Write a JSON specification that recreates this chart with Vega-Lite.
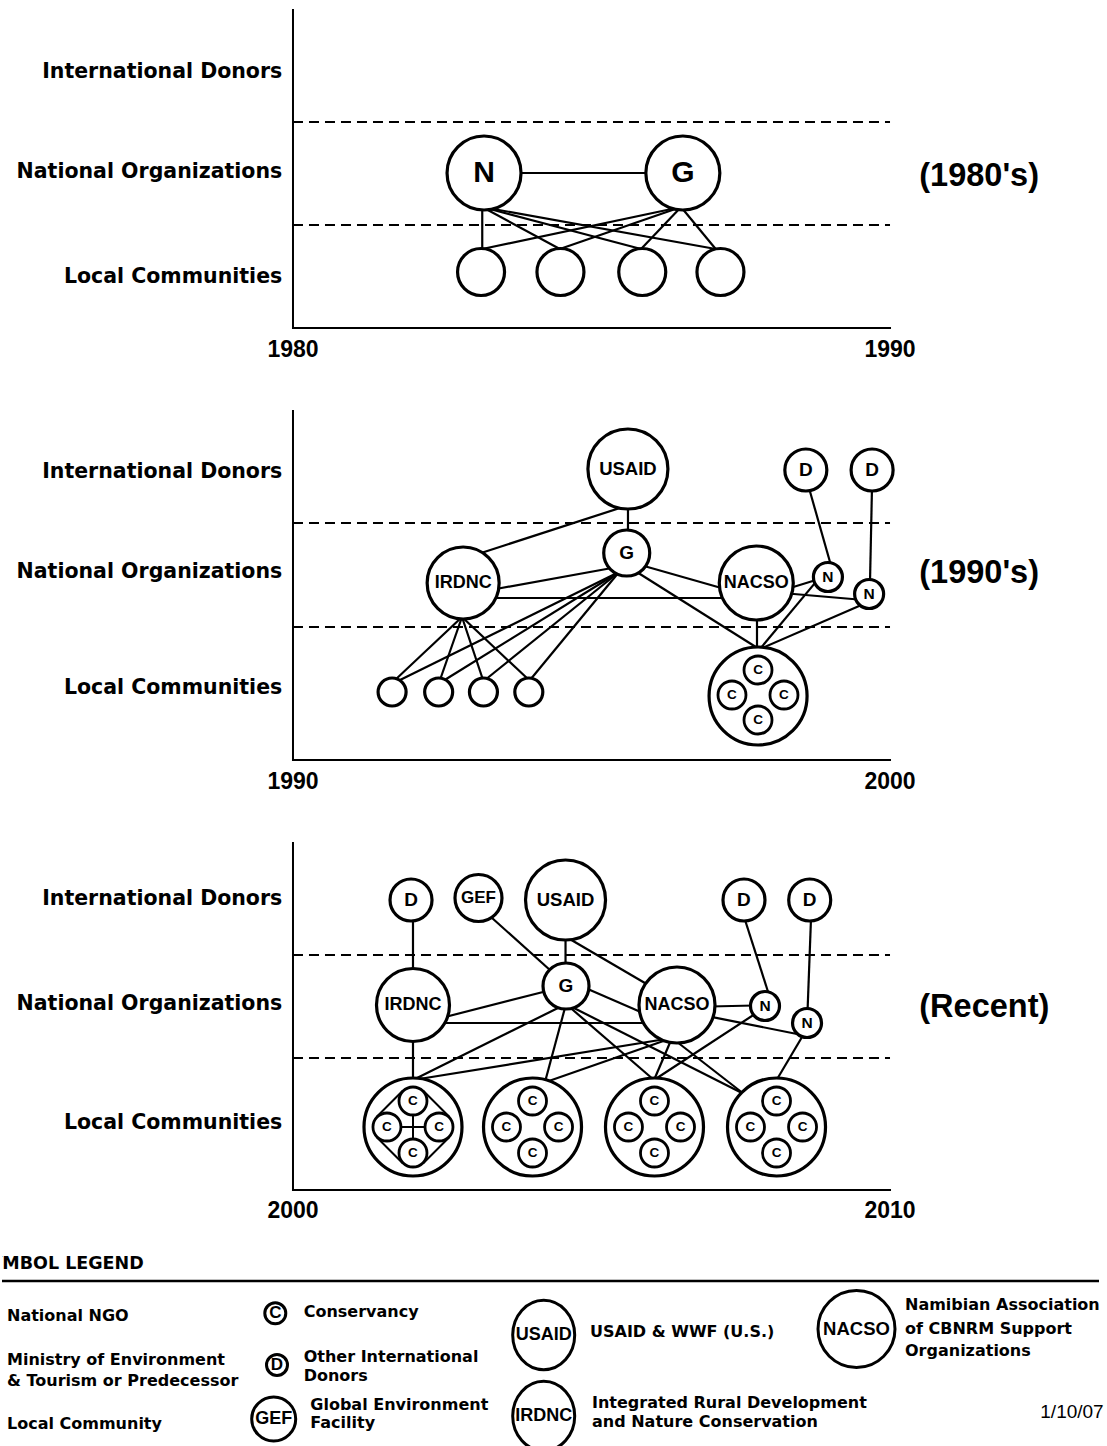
{
  "$schema": "https://vega.github.io/schema/vega-lite/v6.json",
  "background": "white",
  "padding": 0,
  "spacing": 0,
  "config": {"view": {"stroke": null}},
  "datasets": {
    "p1": [
      {"kind": "axis", "x": 1980, "y": 0, "x2": 1990, "y2": 0},
      {"kind": "axis", "x": 1980, "y": 0, "x2": 1980, "y2": 3.18},
      {"kind": "tier", "x": 1980, "y": 2.06, "x2": 1990, "y2": 2.06},
      {"kind": "tier", "x": 1980, "y": 1.03, "x2": 1990, "y2": 1.03},
      {"kind": "link", "x": 1983.2, "y": 1.55, "x2": 1986.53, "y2": 1.55},
      {"kind": "link", "x": 1983.17, "y": 1.21, "x2": 1983.17, "y2": 0.79},
      {"kind": "link", "x": 1983.17, "y": 1.21, "x2": 1984.47, "y2": 0.79},
      {"kind": "link", "x": 1983.17, "y": 1.21, "x2": 1985.83, "y2": 0.79},
      {"kind": "link", "x": 1983.17, "y": 1.21, "x2": 1987.08, "y2": 0.79},
      {"kind": "link", "x": 1986.5, "y": 1.21, "x2": 1983.17, "y2": 0.79},
      {"kind": "link", "x": 1986.5, "y": 1.21, "x2": 1984.47, "y2": 0.79},
      {"kind": "link", "x": 1986.5, "y": 1.21, "x2": 1985.83, "y2": 0.79},
      {"kind": "link", "x": 1986.5, "y": 1.21, "x2": 1987.08, "y2": 0.79},
      {"kind": "node", "x": 1983.2, "y": 1.55, "type": "National NGO", "label": "N"},
      {"kind": "node", "x": 1986.53, "y": 1.55, "type": "Ministry", "label": "G"},
      {"kind": "node", "x": 1983.15, "y": 0.56, "type": "Local Community", "label": ""},
      {"kind": "node", "x": 1984.48, "y": 0.56, "type": "Local Community", "label": ""},
      {"kind": "node", "x": 1985.85, "y": 0.56, "type": "Local Community", "label": ""},
      {"kind": "node", "x": 1987.16, "y": 0.56, "type": "Local Community", "label": ""},
      {"kind": "rowlabel", "x": 1979.82, "y": 2.56, "text": "International Donors"},
      {"kind": "rowlabel", "x": 1979.82, "y": 1.56, "text": "National Organizations"},
      {"kind": "rowlabel", "x": 1979.82, "y": 0.51, "text": "Local Communities"},
      {"kind": "year", "x": 1980, "y": -0.22, "text": "1980"},
      {"kind": "year", "x": 1990, "y": -0.22, "text": "1990"},
      {"kind": "period", "x": 1990.49, "y": 1.52, "text": "(1980's)"}
    ],
    "p2": [
      {"kind": "axis", "x": 1990, "y": 0, "x2": 2000, "y2": 0},
      {"kind": "axis", "x": 1990, "y": 0, "x2": 1990, "y2": 3.49},
      {"kind": "tier", "x": 1990, "y": 2.37, "x2": 2000, "y2": 2.37},
      {"kind": "tier", "x": 1990, "y": 1.33, "x2": 2000, "y2": 1.33},
      {"kind": "link", "x": 1995.578, "y": 2.54, "x2": 1993.099, "y2": 2.06},
      {"kind": "link", "x": 1995.611, "y": 2.55, "x2": 1995.611, "y2": 2.27},
      {"kind": "link", "x": 1995.343, "y": 1.92, "x2": 1993.4, "y2": 1.71},
      {"kind": "link", "x": 1993.333, "y": 1.62, "x2": 1997.27, "y2": 1.62},
      {"kind": "link", "x": 1995.896, "y": 1.937, "x2": 1997.219, "y2": 1.713},
      {"kind": "link", "x": 1995.745, "y": 1.885, "x2": 1997.806, "y2": 1.11},
      {"kind": "link", "x": 1997.772, "y": 1.45, "x2": 1997.772, "y2": 1.1},
      {"kind": "link", "x": 1998.801, "y": 1.811, "x2": 1997.822, "y2": 1.11},
      {"kind": "link", "x": 1999.598, "y": 1.57, "x2": 1997.822, "y2": 1.11},
      {"kind": "link", "x": 1998.325, "y": 1.72, "x2": 1998.76, "y2": 1.8},
      {"kind": "link", "x": 1998.291, "y": 1.665, "x2": 1999.464, "y2": 1.605},
      {"kind": "link", "x": 1998.643, "y": 2.72, "x2": 1999.028, "y2": 1.91},
      {"kind": "link", "x": 1999.698, "y": 2.72, "x2": 1999.665, "y2": 1.78},
      {"kind": "link", "x": 1992.831, "y": 1.43, "x2": 1991.709, "y2": 0.8},
      {"kind": "link", "x": 1992.831, "y": 1.43, "x2": 1992.462, "y2": 0.8},
      {"kind": "link", "x": 1992.831, "y": 1.43, "x2": 1993.183, "y2": 0.8},
      {"kind": "link", "x": 1992.831, "y": 1.43, "x2": 1993.953, "y2": 0.8},
      {"kind": "link", "x": 1995.461, "y": 1.88, "x2": 1991.759, "y2": 0.79},
      {"kind": "link", "x": 1995.461, "y": 1.88, "x2": 1992.513, "y2": 0.79},
      {"kind": "link", "x": 1995.461, "y": 1.88, "x2": 1993.216, "y2": 0.8},
      {"kind": "link", "x": 1995.461, "y": 1.88, "x2": 1993.97, "y2": 0.8},
      {"kind": "node", "x": 1995.61, "y": 2.91, "type": "USAID", "label": "USAID"},
      {"kind": "node", "x": 1998.59, "y": 2.9, "type": "Donor", "label": "D"},
      {"kind": "node", "x": 1999.7, "y": 2.9, "type": "Donor", "label": "D"},
      {"kind": "node", "x": 1995.59, "y": 2.07, "type": "Ministry", "label": "G"},
      {"kind": "node", "x": 1992.85, "y": 1.77, "type": "IRDNC", "label": "IRDNC"},
      {"kind": "node", "x": 1997.76, "y": 1.77, "type": "NACSO", "label": "NACSO"},
      {"kind": "node", "x": 1998.96, "y": 1.83, "type": "National NGO", "label": "N"},
      {"kind": "node", "x": 1999.65, "y": 1.66, "type": "National NGO", "label": "N"},
      {"kind": "node", "x": 1991.66, "y": 0.68, "type": "Local Community", "label": ""},
      {"kind": "node", "x": 1992.44, "y": 0.68, "type": "Local Community", "label": ""},
      {"kind": "node", "x": 1993.19, "y": 0.68, "type": "Local Community", "label": ""},
      {"kind": "node", "x": 1993.95, "y": 0.68, "type": "Local Community", "label": ""},
      {"kind": "node", "x": 1997.79, "y": 0.64, "type": "Conservancy group", "label": ""},
      {"kind": "node", "x": 1997.789, "y": 0.9, "type": "Conservancy", "label": "C"},
      {"kind": "node", "x": 1997.353, "y": 0.65, "type": "Conservancy", "label": "C"},
      {"kind": "node", "x": 1998.224, "y": 0.65, "type": "Conservancy", "label": "C"},
      {"kind": "node", "x": 1997.789, "y": 0.4, "type": "Conservancy", "label": "C"},
      {"kind": "rowlabel", "x": 1989.82, "y": 2.88, "text": "International Donors"},
      {"kind": "rowlabel", "x": 1989.82, "y": 1.88, "text": "National Organizations"},
      {"kind": "rowlabel", "x": 1989.82, "y": 0.72, "text": "Local Communities"},
      {"kind": "year", "x": 1990, "y": -0.22, "text": "1990"},
      {"kind": "year", "x": 2000, "y": -0.22, "text": "2000"},
      {"kind": "period", "x": 2000.49, "y": 1.87, "text": "(1990's)"}
    ],
    "p3": [
      {"kind": "axis", "x": 2000, "y": 0, "x2": 2010, "y2": 0},
      {"kind": "axis", "x": 2000, "y": 0, "x2": 2000, "y2": 3.47},
      {"kind": "tier", "x": 2000, "y": 2.35, "x2": 2010, "y2": 2.35},
      {"kind": "tier", "x": 2000, "y": 1.32, "x2": 2010, "y2": 1.32},
      {"kind": "link", "x": 2002.01, "y": 2.72, "x2": 2002.01, "y2": 2.18},
      {"kind": "link", "x": 2003.283, "y": 2.747, "x2": 2004.355, "y2": 2.173},
      {"kind": "link", "x": 2004.565, "y": 2.54, "x2": 2004.565, "y2": 2.23},
      {"kind": "link", "x": 2004.606, "y": 2.52, "x2": 2005.98, "y2": 2.04},
      {"kind": "link", "x": 2004.255, "y": 1.99, "x2": 2002.546, "y2": 1.73},
      {"kind": "link", "x": 2002.496, "y": 1.67, "x2": 2005.93, "y2": 1.67},
      {"kind": "link", "x": 2004.908, "y": 2.017, "x2": 2005.93, "y2": 1.753},
      {"kind": "link", "x": 2006.985, "y": 1.835, "x2": 2007.722, "y2": 1.845},
      {"kind": "link", "x": 2006.985, "y": 1.734, "x2": 2008.526, "y2": 1.55},
      {"kind": "link", "x": 2007.561, "y": 2.72, "x2": 2007.99, "y2": 1.92},
      {"kind": "link", "x": 2008.677, "y": 2.72, "x2": 2008.618, "y2": 1.78},
      {"kind": "link", "x": 2002.01, "y": 1.52, "x2": 2002.01, "y2": 1.09},
      {"kind": "link", "x": 2004.573, "y": 1.86, "x2": 2002.01, "y2": 1.1},
      {"kind": "link", "x": 2004.573, "y": 1.86, "x2": 2004.221, "y2": 1.08},
      {"kind": "link", "x": 2004.573, "y": 1.86, "x2": 2006.047, "y2": 1.1},
      {"kind": "link", "x": 2004.573, "y": 1.86, "x2": 2007.554, "y2": 0.96},
      {"kind": "link", "x": 2006.348, "y": 1.52, "x2": 2002.01, "y2": 1.1},
      {"kind": "link", "x": 2006.348, "y": 1.52, "x2": 2004.238, "y2": 1.08},
      {"kind": "link", "x": 2006.348, "y": 1.52, "x2": 2006.047, "y2": 1.1},
      {"kind": "link", "x": 2006.348, "y": 1.52, "x2": 2007.554, "y2": 0.96},
      {"kind": "link", "x": 2007.789, "y": 1.78, "x2": 2006.047, "y2": 1.1},
      {"kind": "link", "x": 2008.576, "y": 1.58, "x2": 2008.09, "y2": 1.09},
      {"kind": "node", "x": 2001.977, "y": 2.9, "type": "Donor", "label": "D"},
      {"kind": "node", "x": 2003.107, "y": 2.92, "type": "GEF", "label": "GEF"},
      {"kind": "node", "x": 2004.565, "y": 2.9, "type": "USAID", "label": "USAID"},
      {"kind": "node", "x": 2007.554, "y": 2.9, "type": "Donor", "label": "D"},
      {"kind": "node", "x": 2008.655, "y": 2.9, "type": "Donor", "label": "D"},
      {"kind": "node", "x": 2004.573, "y": 2.04, "type": "Ministry", "label": "G"},
      {"kind": "node", "x": 2002.01, "y": 1.85, "type": "IRDNC", "label": "IRDNC"},
      {"kind": "node", "x": 2006.432, "y": 1.85, "type": "NACSO", "label": "NACSO"},
      {"kind": "node", "x": 2007.906, "y": 1.84, "type": "National NGO", "label": "N"},
      {"kind": "node", "x": 2008.61, "y": 1.67, "type": "National NGO", "label": "N"},
      {"kind": "node", "x": 2002.01, "y": 0.63, "type": "Conservancy group", "label": ""},
      {"kind": "node", "x": 2004.012, "y": 0.63, "type": "Conservancy group", "label": ""},
      {"kind": "node", "x": 2006.055, "y": 0.63, "type": "Conservancy group", "label": ""},
      {"kind": "node", "x": 2008.099, "y": 0.63, "type": "Conservancy group", "label": ""},
      {"kind": "node", "x": 2002.01, "y": 0.89, "type": "Conservancy", "label": "C"},
      {"kind": "node", "x": 2001.574, "y": 0.63, "type": "Conservancy", "label": "C"},
      {"kind": "node", "x": 2002.446, "y": 0.63, "type": "Conservancy", "label": "C"},
      {"kind": "node", "x": 2002.01, "y": 0.37, "type": "Conservancy", "label": "C"},
      {"kind": "node", "x": 2004.012, "y": 0.89, "type": "Conservancy", "label": "C"},
      {"kind": "node", "x": 2003.576, "y": 0.63, "type": "Conservancy", "label": "C"},
      {"kind": "node", "x": 2004.448, "y": 0.63, "type": "Conservancy", "label": "C"},
      {"kind": "node", "x": 2004.012, "y": 0.37, "type": "Conservancy", "label": "C"},
      {"kind": "node", "x": 2006.055, "y": 0.89, "type": "Conservancy", "label": "C"},
      {"kind": "node", "x": 2005.619, "y": 0.63, "type": "Conservancy", "label": "C"},
      {"kind": "node", "x": 2006.491, "y": 0.63, "type": "Conservancy", "label": "C"},
      {"kind": "node", "x": 2006.055, "y": 0.37, "type": "Conservancy", "label": "C"},
      {"kind": "node", "x": 2008.099, "y": 0.89, "type": "Conservancy", "label": "C"},
      {"kind": "node", "x": 2007.663, "y": 0.63, "type": "Conservancy", "label": "C"},
      {"kind": "node", "x": 2008.535, "y": 0.63, "type": "Conservancy", "label": "C"},
      {"kind": "node", "x": 2008.099, "y": 0.37, "type": "Conservancy", "label": "C"},
      {"kind": "diamond", "x": 2001.838, "y": 0.9925, "x2": 2001.403, "y2": 0.7325},
      {"kind": "diamond", "x": 2002.182, "y": 0.9925, "x2": 2002.617, "y2": 0.7325},
      {"kind": "diamond", "x": 2002.617, "y": 0.5275, "x2": 2002.182, "y2": 0.2675},
      {"kind": "diamond", "x": 2001.403, "y": 0.5275, "x2": 2001.838, "y2": 0.2675},
      {"kind": "diamond", "x": 2001.809, "y": 0.63, "x2": 2002.211, "y2": 0.63},
      {"kind": "diamond", "x": 2002.01, "y": 0.75, "x2": 2002.01, "y2": 0.51},
      {"kind": "rowlabel", "x": 1999.82, "y": 2.91, "text": "International Donors"},
      {"kind": "rowlabel", "x": 1999.82, "y": 1.86, "text": "National Organizations"},
      {"kind": "rowlabel", "x": 1999.82, "y": 0.67, "text": "Local Communities"},
      {"kind": "year", "x": 2000, "y": -0.21, "text": "2000"},
      {"kind": "year", "x": 2010, "y": -0.21, "text": "2010"},
      {"kind": "period", "x": 2010.49, "y": 1.83, "text": "(Recent)"}
    ],
    "legend": [
      {"kind": "title", "x": -2.5, "y": 2.35, "text": "SYMBOL LEGEND"},
      {"kind": "rule", "x": 0, "y": 4.1, "x2": 109.7, "y2": 4.1},
      {"kind": "text", "x": 0.5, "y": 7.6, "text": "National NGO"},
      {"kind": "text", "x": 0.5, "y": 12.0, "text": "Ministry of Environment"},
      {"kind": "text", "x": 0.5, "y": 14.1, "text": "& Tourism or Predecessor"},
      {"kind": "text", "x": 0.5, "y": 18.35, "text": "Local Community"},
      {"kind": "symbol", "x": 27.33, "y": 7.33, "type": "Conservancy", "label": "C"},
      {"kind": "text", "x": 30.17, "y": 7.17, "text": "Conservancy"},
      {"kind": "symbol", "x": 27.5, "y": 12.5, "type": "Donor", "label": "D"},
      {"kind": "text", "x": 30.17, "y": 11.73, "text": "Other International"},
      {"kind": "text", "x": 30.17, "y": 13.6, "text": "Donors"},
      {"kind": "symbol", "x": 27.17, "y": 17.9, "type": "GEF", "label": "GEF"},
      {"kind": "text", "x": 30.83, "y": 16.5, "text": "Global Environment"},
      {"kind": "text", "x": 30.83, "y": 18.33, "text": "Facility"},
      {"kind": "oval", "x": 54.17, "y": 9.5, "type": "USAID", "label": "USAID"},
      {"kind": "text", "x": 58.8, "y": 9.2, "text": "USAID & WWF (U.S.)"},
      {"kind": "oval", "x": 54.17, "y": 17.6, "type": "IRDNC", "label": "IRDNC"},
      {"kind": "text", "x": 59.0, "y": 16.3, "text": "Integrated Rural Development"},
      {"kind": "text", "x": 59.0, "y": 18.2, "text": "and Nature Conservation"},
      {"kind": "symbol", "x": 85.45, "y": 8.9, "type": "NACSO", "label": "NACSO"},
      {"kind": "text", "x": 90.3, "y": 6.45, "text": "Namibian Association"},
      {"kind": "text", "x": 90.3, "y": 8.9, "text": "of CBNRM Support"},
      {"kind": "text", "x": 90.3, "y": 11.07, "text": "Organizations"},
      {"kind": "date", "x": 110.17, "y": 17.23, "text": "1/10/07"}
    ]
  },
  "vconcat": [
    {
      "width": 1107, "height": 385,
      "data": {"name": "p1"},
      "resolve": {"scale": {"size": "independent"}},
      "encoding": {
        "x": {"field": "x", "type": "quantitative", "scale": {"domain": [1975.126, 1993.668], "nice": false, "zero": false}, "axis": null},
        "y": {"field": "y", "type": "quantitative", "scale": {"domain": [-0.57, 3.28], "nice": false, "zero": false}, "axis": null}
      },
      "layer": [
        {"transform": [{"filter": "datum.kind === 'axis'"}], "mark": {"type": "rule", "strokeWidth": 2, "color": "black", "strokeCap": "square"}, "encoding": {"x2": {"field": "x2"}, "y2": {"field": "y2"}}},
        {"transform": [{"filter": "datum.kind === 'tier'"}], "mark": {"type": "rule", "strokeWidth": 2, "color": "black", "strokeDash": [10, 6]}, "encoding": {"x2": {"field": "x2"}, "y2": {"field": "y2"}}},
        {"transform": [{"filter": "datum.kind === 'link'"}], "mark": {"type": "rule", "strokeWidth": 2.2, "color": "black"}, "encoding": {"x2": {"field": "x2"}, "y2": {"field": "y2"}}},
        {"transform": [{"filter": "datum.kind === 'node'"}], "mark": {"type": "point", "shape": "circle", "filled": true, "fill": "white", "stroke": "black", "strokeWidth": 3.2, "opacity": 1},
         "encoding": {"size": {"field": "type", "type": "nominal", "scale": {"type": "ordinal", "domain": ["National NGO", "Ministry", "Local Community"], "range": [5476, 5476, 2209]}, "legend": null}}},
        {"transform": [{"filter": "datum.kind === 'node'"}], "mark": {"type": "text", "font": "Liberation Sans", "fontWeight": "bold", "align": "center", "baseline": "middle", "color": "black"},
         "encoding": {"text": {"field": "label"}, "size": {"field": "type", "type": "nominal", "scale": {"type": "ordinal", "domain": ["National NGO", "Ministry", "Local Community"], "range": [30, 30, 10]}, "legend": null}}},
        {"transform": [{"filter": "datum.kind === 'rowlabel'"}], "mark": {"type": "text", "font": "DejaVu Sans", "fontWeight": "bold", "fontSize": 20.5, "align": "right", "baseline": "middle", "color": "black"}, "encoding": {"text": {"field": "text"}}},
        {"transform": [{"filter": "datum.kind === 'year'"}], "mark": {"type": "text", "font": "Liberation Sans", "fontWeight": "bold", "fontSize": 23, "align": "center", "baseline": "middle", "color": "black"}, "encoding": {"text": {"field": "text"}}},
        {"transform": [{"filter": "datum.kind === 'period'"}], "mark": {"type": "text", "font": "Liberation Sans", "fontWeight": "bold", "fontSize": 32.5, "align": "left", "baseline": "middle", "color": "black"}, "encoding": {"text": {"field": "text"}}}
      ]
    },
    {
      "width": 1107, "height": 425,
      "data": {"name": "p2"},
      "resolve": {"scale": {"size": "independent"}},
      "encoding": {
        "x": {"field": "x", "type": "quantitative", "scale": {"domain": [1985.126, 2003.668], "nice": false, "zero": false}, "axis": null},
        "y": {"field": "y", "type": "quantitative", "scale": {"domain": [-0.5, 3.75], "nice": false, "zero": false}, "axis": null}
      },
      "layer": [
        {"transform": [{"filter": "datum.kind === 'axis'"}], "mark": {"type": "rule", "strokeWidth": 2, "color": "black", "strokeCap": "square"}, "encoding": {"x2": {"field": "x2"}, "y2": {"field": "y2"}}},
        {"transform": [{"filter": "datum.kind === 'tier'"}], "mark": {"type": "rule", "strokeWidth": 2, "color": "black", "strokeDash": [10, 6]}, "encoding": {"x2": {"field": "x2"}, "y2": {"field": "y2"}}},
        {"transform": [{"filter": "datum.kind === 'link'"}], "mark": {"type": "rule", "strokeWidth": 2.2, "color": "black"}, "encoding": {"x2": {"field": "x2"}, "y2": {"field": "y2"}}},
        {"transform": [{"filter": "datum.kind === 'node' && datum.type !== 'Conservancy'"}], "mark": {"type": "point", "shape": "circle", "filled": true, "fill": "white", "stroke": "black", "strokeWidth": 3.2, "opacity": 1},
         "encoding": {"size": {"field": "type", "type": "nominal", "scale": {"type": "ordinal", "domain": ["USAID", "Donor", "Ministry", "IRDNC", "NACSO", "National NGO", "Local Community", "Conservancy group"], "range": [6400, 1764, 2116, 5184, 5476, 841, 784, 9604]}, "legend": null}}},
        {"transform": [{"filter": "datum.kind === 'node' && datum.type === 'Conservancy'"}], "mark": {"type": "point", "shape": "circle", "filled": true, "fill": "white", "stroke": "black", "strokeWidth": 2.8, "opacity": 1, "size": 784}},
        {"transform": [{"filter": "datum.kind === 'node'"}], "mark": {"type": "text", "font": "Liberation Sans", "fontWeight": "bold", "align": "center", "baseline": "middle", "color": "black"},
         "encoding": {"text": {"field": "label"}, "size": {"field": "type", "type": "nominal", "scale": {"type": "ordinal", "domain": ["USAID", "Donor", "Ministry", "IRDNC", "NACSO", "National NGO", "Local Community", "Conservancy group", "Conservancy"], "range": [18.5, 19, 19, 18, 18, 15.5, 10, 10, 13.5]}, "legend": null}}},
        {"transform": [{"filter": "datum.kind === 'rowlabel'"}], "mark": {"type": "text", "font": "DejaVu Sans", "fontWeight": "bold", "fontSize": 20.5, "align": "right", "baseline": "middle", "color": "black"}, "encoding": {"text": {"field": "text"}}},
        {"transform": [{"filter": "datum.kind === 'year'"}], "mark": {"type": "text", "font": "Liberation Sans", "fontWeight": "bold", "fontSize": 23, "align": "center", "baseline": "middle", "color": "black"}, "encoding": {"text": {"field": "text"}}},
        {"transform": [{"filter": "datum.kind === 'period'"}], "mark": {"type": "text", "font": "Liberation Sans", "fontWeight": "bold", "fontSize": 32.5, "align": "left", "baseline": "middle", "color": "black"}, "encoding": {"text": {"field": "text"}}}
      ]
    },
    {
      "width": 1107, "height": 430,
      "data": {"name": "p3"},
      "resolve": {"scale": {"size": "independent"}},
      "encoding": {
        "x": {"field": "x", "type": "quantitative", "scale": {"domain": [1995.126, 2013.668], "nice": false, "zero": false}, "axis": null},
        "y": {"field": "y", "type": "quantitative", "scale": {"domain": [-0.5, 3.8], "nice": false, "zero": false}, "axis": null}
      },
      "layer": [
        {"transform": [{"filter": "datum.kind === 'axis'"}], "mark": {"type": "rule", "strokeWidth": 2, "color": "black", "strokeCap": "square"}, "encoding": {"x2": {"field": "x2"}, "y2": {"field": "y2"}}},
        {"transform": [{"filter": "datum.kind === 'tier'"}], "mark": {"type": "rule", "strokeWidth": 2, "color": "black", "strokeDash": [10, 6]}, "encoding": {"x2": {"field": "x2"}, "y2": {"field": "y2"}}},
        {"transform": [{"filter": "datum.kind === 'link'"}], "mark": {"type": "rule", "strokeWidth": 2.2, "color": "black"}, "encoding": {"x2": {"field": "x2"}, "y2": {"field": "y2"}}},
        {"transform": [{"filter": "datum.kind === 'node' && datum.type !== 'Conservancy'"}], "mark": {"type": "point", "shape": "circle", "filled": true, "fill": "white", "stroke": "black", "strokeWidth": 3.2, "opacity": 1},
         "encoding": {"size": {"field": "type", "type": "nominal", "scale": {"type": "ordinal", "domain": ["USAID", "Donor", "GEF", "Ministry", "IRDNC", "NACSO", "National NGO", "Conservancy group"], "range": [6400, 1764, 2209, 2116, 5329, 5776, 841, 9604]}, "legend": null}}},
        {"transform": [{"filter": "datum.kind === 'node' && datum.type === 'Conservancy'"}], "mark": {"type": "point", "shape": "circle", "filled": true, "fill": "white", "stroke": "black", "strokeWidth": 2.8, "opacity": 1, "size": 784}},
        {"transform": [{"filter": "datum.kind === 'diamond'"}], "mark": {"type": "rule", "strokeWidth": 2, "color": "black"}, "encoding": {"x2": {"field": "x2"}, "y2": {"field": "y2"}}},
        {"transform": [{"filter": "datum.kind === 'node'"}], "mark": {"type": "text", "font": "Liberation Sans", "fontWeight": "bold", "align": "center", "baseline": "middle", "color": "black"},
         "encoding": {"text": {"field": "label"}, "size": {"field": "type", "type": "nominal", "scale": {"type": "ordinal", "domain": ["USAID", "Donor", "GEF", "Ministry", "IRDNC", "NACSO", "National NGO", "Conservancy group", "Conservancy"], "range": [18.5, 19, 17, 19, 18, 18, 15.5, 10, 13.5]}, "legend": null}}},
        {"transform": [{"filter": "datum.kind === 'rowlabel'"}], "mark": {"type": "text", "font": "DejaVu Sans", "fontWeight": "bold", "fontSize": 20.5, "align": "right", "baseline": "middle", "color": "black"}, "encoding": {"text": {"field": "text"}}},
        {"transform": [{"filter": "datum.kind === 'year'"}], "mark": {"type": "text", "font": "Liberation Sans", "fontWeight": "bold", "fontSize": 23, "align": "center", "baseline": "middle", "color": "black"}, "encoding": {"text": {"field": "text"}}},
        {"transform": [{"filter": "datum.kind === 'period'"}], "mark": {"type": "text", "font": "Liberation Sans", "fontWeight": "bold", "fontSize": 32.5, "align": "left", "baseline": "middle", "color": "black"}, "encoding": {"text": {"field": "text"}}}
      ]
    },
    {
      "width": 1107, "height": 206,
      "data": {"name": "legend"},
      "resolve": {"scale": {"size": "independent"}},
      "encoding": {
        "x": {"field": "x", "type": "quantitative", "scale": {"domain": [0, 110.7], "nice": false, "zero": false}, "axis": null},
        "y": {"field": "y", "type": "quantitative", "scale": {"domain": [0, 20.6], "reverse": true, "nice": false, "zero": false}, "axis": null}
      },
      "layer": [
        {"transform": [{"filter": "datum.kind === 'title'"}], "mark": {"type": "text", "font": "DejaVu Sans", "fontWeight": "bold", "fontSize": 17.5, "align": "left", "baseline": "middle", "color": "black", "clip": true}, "encoding": {"text": {"field": "text"}}},
        {"transform": [{"filter": "datum.kind === 'rule'"}], "mark": {"type": "rule", "strokeWidth": 2.5, "color": "black"}, "encoding": {"x2": {"field": "x2"}, "y2": {"field": "y2"}}},
        {"transform": [{"filter": "datum.kind === 'symbol'"}], "mark": {"type": "point", "shape": "circle", "filled": true, "fill": "white", "stroke": "black", "strokeWidth": 3, "opacity": 1, "clip": true},
         "encoding": {"size": {"field": "type", "type": "nominal", "scale": {"type": "ordinal", "domain": ["Conservancy", "Donor", "GEF", "NACSO"], "range": [441, 441, 1936, 5929]}, "legend": null}}},
        {"transform": [{"filter": "datum.kind === 'oval'"}], "mark": {"type": "point", "shape": "M1,0C1,0.6186,0.5523,1.12,0,1.12C-0.5523,1.12,-1,0.6186,-1,0C-1,-0.6186,-0.5523,-1.12,0,-1.12C0.5523,-1.12,1,-0.6186,1,0Z", "filled": true, "fill": "white", "stroke": "black", "strokeWidth": 3, "opacity": 1, "clip": true, "size": 3844}},
        {"transform": [{"filter": "datum.kind === 'symbol' || datum.kind === 'oval'"}], "mark": {"type": "text", "font": "Liberation Sans", "fontWeight": "bold", "align": "center", "baseline": "middle", "color": "black"},
         "encoding": {"text": {"field": "label"}, "size": {"field": "type", "type": "nominal", "scale": {"type": "ordinal", "domain": ["Conservancy", "Donor", "GEF", "USAID", "IRDNC", "NACSO"], "range": [17, 17, 18, 18, 18, 18.5]}, "legend": null}}},
        {"transform": [{"filter": "datum.kind === 'text'"}], "mark": {"type": "text", "font": "DejaVu Sans", "fontWeight": "bold", "fontSize": 16, "align": "left", "baseline": "middle", "color": "black"}, "encoding": {"text": {"field": "text"}}},
        {"transform": [{"filter": "datum.kind === 'date'"}], "mark": {"type": "text", "font": "Liberation Sans", "fontSize": 19, "align": "right", "baseline": "middle", "color": "black"}, "encoding": {"text": {"field": "text"}}}
      ]
    }
  ]
}
